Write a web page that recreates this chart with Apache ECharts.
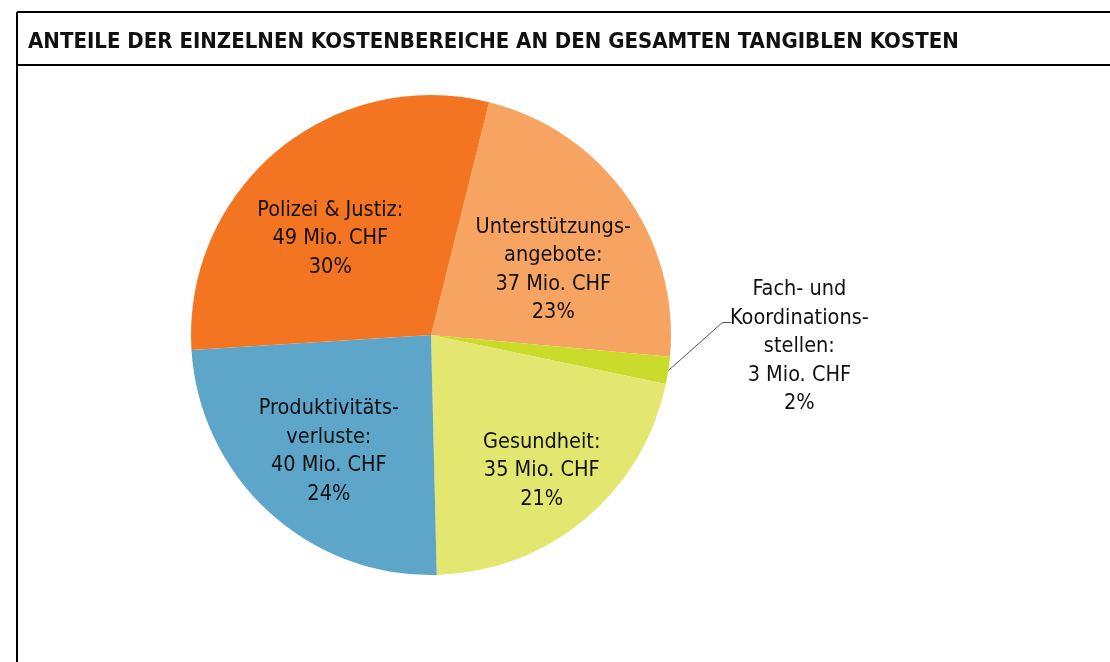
<!DOCTYPE html>
<html>
<head>
<meta charset="utf-8">
<script src="https://cdn.jsdelivr.net/npm/echarts@6/dist/echarts.min.js"></script>
<style>
  html, body { margin: 0; padding: 0; background: #fff; }
  #chart { width: 1110px; height: 662px; }
</style>
</head>
<body>
<div id="chart"></div>
<script>
// Kostenbereiche (im Uhrzeigersinn ab oben)
var categories = ['Unterstützungs-\nangebote:', 'Fach- und\nKoordinations-\nstellen:', 'Gesundheit:', 'Produktivitäts-\nverluste:', 'Polizei & Justiz:']
var valuesMio = [37, 3, 35, 40, 49]
var percentLabels = ['23%', '2%', '21%', '24%', '30%']
var colors = ['#F7A463', '#CADB2B', '#E3E66F', '#5EA6C9', '#F37421']
// Verschiebung der Beschriftungen innerhalb der Segmente
var labelOffsets = [[22, 6], [0, 0], [32, 41], [-19, 26], [-22, -2]]

var FONT = 'DejaVu Sans Condensed'

var chart = echarts.init(document.getElementById('chart'))

var data = categories.map(function (name, i) {
  var item = {
    name: name,
    value: valuesMio[i],
    itemStyle: { color: colors[i] },
    label: { offset: labelOffsets[i] }
  }
  if (i === 1) {
    item.label = { position: 'outside', offset: [0, 0] }
    item.labelLine = { show: true }
  }
  return item
})

chart.setOption({
  backgroundColor: '#fff',
  animation: false,
  title: {
    text: 'ANTEILE DER EINZELNEN KOSTENBEREICHE AN DEN GESAMTEN TANGIBLEN KOSTEN',
    left: 23,
    top: 26,
    textStyle: { fontFamily: FONT, fontWeight: 'bold', fontSize: 22, color: '#111' }
  },
  graphic: [
    { type: 'line', shape: { x1: 17, y1: 12, x2: 1110, y2: 12 }, style: { stroke: '#000', lineWidth: 2 } },
    { type: 'line', shape: { x1: 17, y1: 12, x2: 17, y2: 662 }, style: { stroke: '#000', lineWidth: 2 } },
    { type: 'line', shape: { x1: 17, y1: 65, x2: 1110, y2: 65 }, style: { stroke: '#000', lineWidth: 2 } }
  ],
  series: [{
    type: 'pie',
    center: [431, 335],
    radius: 240,
    startAngle: 76,
    clockwise: true,
    itemStyle: { borderWidth: 0 },
    label: {
      show: true,
      position: 'inside',
      fontFamily: FONT,
      fontSize: 21.5,
      lineHeight: 28.5,
      color: '#111',
      align: 'center',
      formatter: function (p) {
        return p.name + '\n' + p.value + ' Mio. CHF\n' + percentLabels[p.dataIndex]
      }
    },
    labelLine: { show: false, lineStyle: { color: '#555', width: 1 } },
    labelLayout: function (params) {
      if (params.dataIndex !== 1 || !params.labelLinePoints) return {}
      var s = params.labelLinePoints[0]
      return {
        x: s[0] + 131,
        y: s[1] - 24,
        align: 'center',
        verticalAlign: 'middle',
        labelLinePoints: [s, [s[0] + 54, s[1] - 48], [s[0] + 63, s[1] - 48]]
      }
    },
    emphasis: { disabled: true },
    data: data
  }]
})
</script>
</body>
</html>
